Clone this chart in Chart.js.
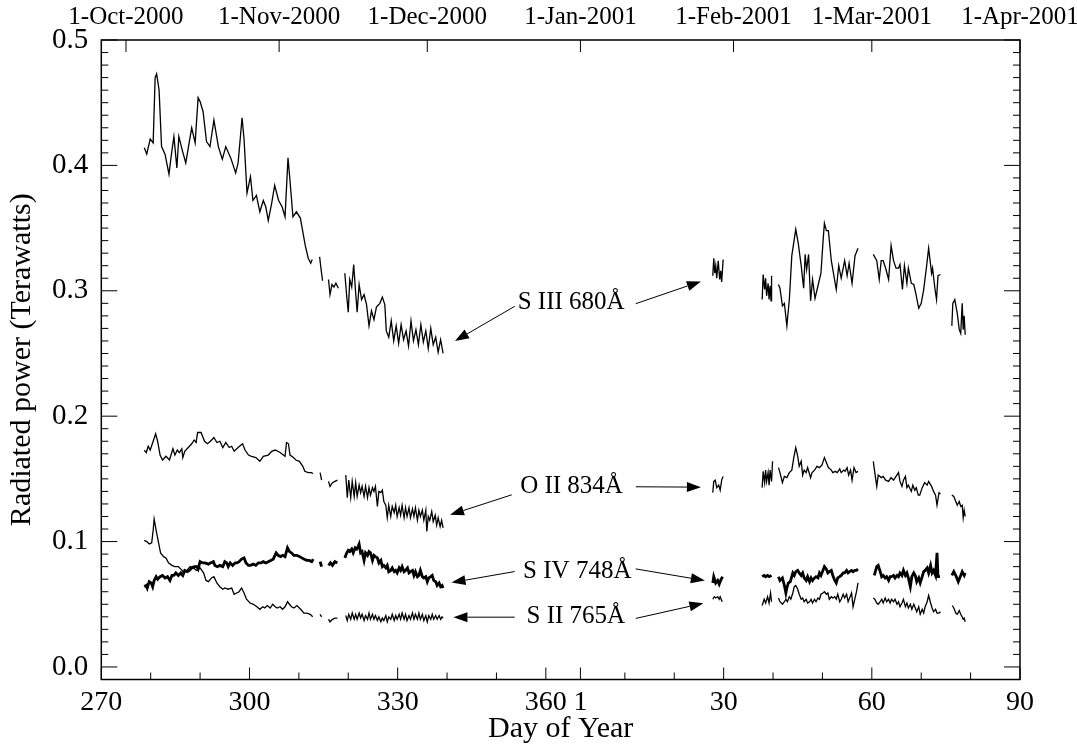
<!DOCTYPE html>
<html>
<head>
<meta charset="utf-8">
<title>Radiated power</title>
<script src="https://cdn.jsdelivr.net/npm/chart.js@4.4.1/dist/chart.umd.min.js"></script>
<style>
  html, body { margin: 0; padding: 0; background: #fff; }
  #wrap { width: 1077px; height: 744px; }
</style>
</head>
<body>
<div id="wrap"><canvas id="grafico" width="1077" height="744"></canvas></div>
<script>
// day numbers run on past 366 into 2001 (day 1 of 2001 = 367), null = gap in the record
const s3Days = [
  278.7, 279.2, 279.9, 280.5, 280.9, 281.2, 281.7, 282.2, 282.9, 283.3, 283.7, 284.2, 284.7, 285.3, 285.7, 286.4, 287.1, 287.7, 288.3, 289.0,
  289.6, 290.0, 290.6, 291.3, 292.0, 292.8, 293.7, 294.5, 295.2, 296.2, 296.7, 297.2, 297.7, 298.5, 298.9, 299.5, 300.2, 300.7, 301.4, 302.1,
  302.8, 303.3, 303.8, 304.5, 305.1, 305.9, 306.6, 307.2, 307.8, 308.2, 308.8, 309.5, 310.3, 311.3, 311.9, 312.4, 312.7, null,
  314.2, 314.5, 314.8, null,
  316.0, 316.3, 316.7, 317.1, 317.5, 318.0, null,
  319.3, 319.7, 320.0, 320.3, 320.7, 321.1, 321.5, 321.8, 322.2, 322.7, 323.2, 323.7, 324.2, 324.7, 325.2, 325.7, 326.4, 326.9, 327.4, 327.7,
  328.2, 328.7, 329.2, 329.7, 330.2, 330.7, 331.2, 331.7, 332.2, 332.7, 333.2, 333.7, 334.2, 334.7, 335.2, 335.7, 336.2, 336.7, 337.2, 337.7,
  338.2, 338.7, 339.2, null,
  393.8, 394.0, 394.2, 394.4, 394.6, 394.9, 395.2, 395.4, 395.6, 395.9, null,
  403.8, 404.0, 404.3, 404.5, 404.7, 405.0, 405.2, 405.4, 405.6, 405.7, null,
  407.1, 407.4, 407.9, 408.3, 408.8, 409.3, 409.8, 410.6, 411.1, 411.7, 412.2, 412.5, 412.8, 413.2, 413.6, 414.0, 414.5, 415.1, 415.7, 416.1,
  416.4, 416.8, 417.2, 417.8, 418.1, 418.8, 419.3, 419.8, 420.5, 421.0, 421.4, 422.0, 422.6, 423.2, null,
  426.3, 427.0, 427.5, 427.9, 428.3, 428.8, 429.4, 429.9, 430.4, 430.9, 431.4, 431.7, 432.2, 432.6, 433.1, 433.4, 434.0, 434.5, 434.9, 435.5,
  436.0, 436.5, 437.1, 437.5, 438.1, 438.3, 438.8, 439.1, 439.4, 439.9, null,
  442.2, 442.4, 442.8, 443.3, 443.7, 444.0, 444.3, 444.5, 444.7, 444.9
];
const s3Vals = [
  .414, .409, .421, .418, .470, .473, .460, .415, .409, .401, .393, .409, .423, .398, .423, .412, .402, .416, .430, .418,
  .454, .451, .443, .419, .415, .436, .415, .405, .415, .406, .400, .394, .402, .438, .421, .378, .391, .372, .376, .363,
  .372, .367, .356, .370, .384, .372, .367, .359, .406, .388, .359, .363, .358, .336, .326, .322, .325, null,
  .327, .317, .308, null,
  .309, .297, .305, .303, .306, .302, null,
  .314, .295, .283, .309, .303, .321, .298, .283, .305, .293, .297, .289, .272, .284, .277, .287, .290, .295, .289, .268,
  .263, .276, .260, .272, .258, .273, .261, .268, .256, .276, .260, .269, .257, .273, .259, .268, .254, .270, .257, .263,
  .251, .261, .250, null,
  .312, .326, .314, .320, .310, .324, .309, .316, .307, .325, null,
  .293, .313, .301, .310, .296, .306, .293, .304, .292, .312, null,
  .305, .302, .288, .290, .272, .293, .328, .349, .338, .320, .302, .329, .317, .329, .292, .309, .294, .304, .314, .338,
  .354, .348, .348, .324, .317, .301, .320, .310, .324, .312, .322, .306, .328, .334, null,
  .329, .324, .309, .324, .324, .318, .309, .336, .324, .318, .318, .321, .301, .320, .306, .318, .306, .305, .298, .286,
  .290, .301, .320, .334, .314, .318, .301, .293, .312, .313, null,
  .272, .290, .293, .282, .269, .266, .290, .269, .280, .265
];

const o2Days = [
  278.7, 279.1, 279.5, 279.9, 280.5, 281.0, 281.4, 281.9, 282.4, 283.1, 283.8, 284.5, 284.9, 285.4, 285.8, 286.3, 286.5, 286.9, 287.6, 288.3,
  288.8, 289.2, 289.5, 290.2, 290.9, 291.5, 292.1, 292.8, 293.4, 294.0, 294.6, 295.2, 295.9, 296.4, 296.9, 297.7, 298.6, 299.1, 299.8, 300.4,
  301.3, 302.1, 302.8, 303.8, 304.5, 305.2, 306.2, 307.2, 307.5, 307.9, 308.2, 308.9, 309.4, 310.1, 310.8, 311.2, 311.9, 312.6, 312.8, null,
  314.3, 314.6, null,
  316.0, 316.3, 316.8, 317.3, 317.8, null,
  319.5, 319.8, 320.1, 320.5, 320.8, 321.2, 321.5, 321.8, 322.2, 322.5, 322.8, 323.2, 323.5, 323.9, 324.2, 324.5, 324.9, 325.2, 325.5, 325.9,
  326.2, 326.6, 326.9, 327.2, 327.6, 327.9, 328.2, 328.6, 328.9, 329.3, 329.6, 329.9, 330.3, 330.6, 330.9, 331.3, 331.6, 331.9, 332.3, 332.6,
  333.0, 333.3, 333.6, 334.0, 334.3, 334.6, 335.0, 335.3, 335.7, 335.9, 336.2, 336.5, 336.9, 337.2, 337.6, 337.9, 338.2, 338.6, 338.9, 339.2, null,
  393.8, 394.0, 394.3, 394.6, 395.0, 395.3, 395.6, 395.9, null,
  403.8, 404.0, 404.3, 404.5, 404.7, 405.0, 405.2, 405.4, 405.7, 405.9, null,
  407.1, 407.4, 407.9, 408.3, 408.8, 409.3, 409.8, 410.2, 410.6, 411.0, 411.3, 411.7, 412.0, 412.3, 412.7, 413.0, 413.6, 413.9, 414.4, 414.9,
  415.4, 415.9, 416.4, 416.8, 417.2, 417.8, 418.1, 418.6, 419.0, 419.5, 419.8, 420.3, 420.6, 421.0, 421.3, 421.7, 422.0, 422.4, 422.8, 423.2, null,
  426.3, 426.6, 427.0, 427.3, 427.9, 428.3, 428.8, 429.4, 429.9, 430.4, 430.9, 431.4, 431.7, 432.1, 432.4, 432.8, 433.1, 433.4, 434.0, 434.3,
  434.7, 435.0, 435.4, 435.7, 436.2, 436.7, 437.2, 437.5, 438.1, 438.5, 438.9, 439.2, 439.6, 439.9, null,
  442.2, 442.6, 443.0, 443.3, 443.7, 444.0, 444.3, 444.5, 444.7, 444.9
];
const o2Vals = [
  .173, .171, .176, .173, .180, .186, .180, .169, .165, .168, .165, .174, .169, .173, .171, .174, .167, .172, .175, .178,
  .181, .179, .187, .187, .180, .178, .180, .183, .179, .180, .175, .179, .175, .176, .172, .175, .178, .173, .169, .168,
  .167, .164, .168, .169, .172, .173, .171, .168, .179, .178, .169, .167, .165, .164, .160, .156, .155, .155, .154, null,
  .155, .149, null,
  .148, .144, .147, .148, .149, null,
  .153, .135, .149, .135, .148, .136, .147, .136, .145, .139, .144, .136, .144, .135, .143, .137, .143, .140, .144, .128,
  .140, .139, .141, .132, .129, .119, .129, .120, .128, .123, .129, .120, .127, .121, .129, .119, .127, .120, .127, .119,
  .126, .120, .127, .117, .125, .120, .125, .117, .125, .108, .120, .117, .124, .116, .121, .113, .119, .112, .117, .111, null,
  .139, .148, .149, .143, .145, .141, .149, .152, null,
  .143, .156, .147, .157, .148, .155, .145, .157, .148, .164, null,
  .159, .155, .147, .152, .151, .155, .157, .167, .175, .168, .160, .164, .153, .157, .155, .159, .151, .155, .157, .160,
  .159, .161, .167, .163, .159, .157, .155, .156, .155, .158, .155, .157, .156, .159, .153, .157, .149, .159, .155, .156, null,
  .164, .155, .144, .153, .151, .152, .149, .148, .151, .149, .152, .155, .148, .144, .149, .152, .143, .145, .140, .145,
  .141, .143, .137, .137, .143, .147, .145, .148, .144, .140, .137, .129, .139, .138, null,
  .137, .136, .132, .129, .132, .128, .129, .119, .125, .120
];

const s4Days = [
  278.7, 279.1, 279.3, 279.7, 280.1, 280.4, 280.7, 281.1, 281.4, 281.9, 282.4, 282.9, 283.4, 283.9, 284.3, 284.7, 285.1, 285.6, 286.1, 286.5,
  286.9, 287.4, 287.8, 288.3, 288.8, 289.3, 289.6, 290.0, 290.5, 291.0, 291.7, 292.1, 292.7, 293.0, 293.5, 294.0, 294.6, 295.0, 295.4, 295.7,
  296.1, 296.6, 297.1, 297.5, 297.9, 298.4, 298.9, 299.3, 299.8, 300.2, 300.8, 301.3, 301.8, 302.3, 302.8, 303.3, 303.8, 304.3, 304.8, 305.4,
  305.8, 306.3, 306.7, 307.2, 307.7, 308.1, 308.5, 309.0, 309.6, 310.1, 310.6, 311.0, 311.6, 312.1, 312.6, 312.9, null,
  314.3, 314.6, null,
  316.0, 316.4, 316.8, 317.3, 317.8, null,
  319.3, 319.7, 320.0, 320.3, 320.7, 321.0, 321.4, 321.7, 322.0, 322.2, 322.5, 322.8, 323.2, 323.5, 323.9, 324.2, 324.5, 324.9, 325.2, 325.5,
  325.9, 326.2, 326.6, 326.9, 327.2, 327.6, 327.9, 328.2, 328.6, 328.9, 329.3, 329.6, 329.9, 330.3, 330.6, 330.9, 331.3, 331.6, 332.0, 332.3,
  332.6, 333.0, 333.3, 333.6, 334.0, 334.3, 334.6, 335.0, 335.3, 335.7, 336.0, 336.3, 336.7, 337.0, 337.3, 337.7, 338.0, 338.4, 338.7, 339.0, 339.2, null,
  393.8, 394.0, 394.4, 394.8, 395.1, 395.5, 395.8, null,
  403.8, 404.2, 404.5, 404.9, 405.2, 405.7, null,
  407.1, 407.4, 407.9, 408.3, 408.6, 408.8, 409.1, 409.5, 410.0, 410.3, 410.6, 411.0, 411.3, 411.7, 412.0, 412.3, 412.7, 413.0, 413.4, 413.7,
  414.0, 414.4, 414.7, 415.1, 415.4, 415.7, 416.1, 416.4, 416.8, 417.1, 417.4, 417.8, 418.1, 418.5, 418.8, 419.1, 419.5, 419.8, 420.2, 420.5,
  420.9, 421.2, 421.5, 421.9, 422.2, 422.6, 422.9, 423.2, null,
  426.5, 427.0, 427.3, 427.7, 428.0, 428.3, 428.7, 429.0, 429.4, 429.7, 430.0, 430.4, 430.7, 431.1, 431.4, 431.7, 432.1, 432.4, 432.8, 433.1,
  433.4, 433.8, 434.1, 434.5, 434.8, 435.1, 435.5, 435.8, 436.2, 436.5, 436.8, 437.2, 437.5, 437.9, 438.2, 438.5, 438.9, 439.2, 439.4, 439.8, null,
  442.2, 442.6, 443.1, 443.5, 444.0, 444.3, 444.7, 444.9
];
const s4Vals = [
  .064, .065, .063, .068, .067, .064, .069, .072, .070, .072, .073, .071, .072, .069, .073, .073, .075, .073, .075, .073,
  .077, .076, .077, .079, .080, .080, .078, .084, .083, .083, .082, .083, .084, .081, .080, .081, .080, .084, .083, .080,
  .083, .081, .083, .083, .084, .086, .087, .083, .081, .081, .082, .081, .083, .083, .084, .083, .084, .085, .086, .091,
  .089, .088, .089, .088, .095, .092, .091, .089, .089, .088, .087, .086, .085, .085, .084, .086, null,
  .084, .080, null,
  .081, .083, .081, .084, .083, null,
  .087, .091, .093, .092, .094, .091, .095, .094, .096, .098, .091, .092, .085, .091, .089, .092, .091, .085, .089, .088,
  .087, .083, .085, .080, .081, .079, .081, .076, .077, .079, .076, .077, .075, .079, .077, .080, .076, .077, .079, .075,
  .076, .077, .073, .076, .072, .073, .077, .072, .071, .072, .068, .071, .072, .073, .069, .068, .065, .067, .064, .065, .063, null,
  .067, .072, .067, .069, .066, .070, .072, null,
  .072, .073, .072, .073, .072, .073, null,
  .072, .069, .071, .065, .059, .063, .067, .068, .075, .073, .076, .077, .075, .073, .075, .071, .069, .072, .068, .071,
  .069, .071, .072, .071, .075, .073, .077, .080, .078, .075, .076, .077, .073, .069, .067, .071, .072, .073, .075, .075,
  .077, .075, .076, .077, .076, .077, .077, .078, null,
  .073, .080, .081, .076, .072, .073, .071, .072, .069, .072, .072, .073, .071, .073, .072, .075, .073, .077, .073, .075,
  .071, .064, .072, .075, .073, .068, .071, .067, .072, .076, .077, .079, .075, .081, .075, .077, .073, .091, .072, .072, null,
  .073, .076, .072, .068, .073, .076, .073, .075
];

const s2Days = [
  278.7, 279.2, 279.7, 280.2, 280.5, 280.7, 281.1, 281.6, 282.0, 282.6, 283.1, 283.6, 284.3, 284.9, 285.6, 286.1, 286.6, 287.3, 288.0, 288.6,
  289.3, 290.0, 290.7, 291.2, 291.7, 292.3, 292.8, 293.4, 294.0, 294.6, 295.0, 295.7, 296.4, 296.9, 297.4, 297.9, 298.4, 298.9, 299.4, 300.1,
  300.8, 301.5, 302.1, 302.7, 303.1, 303.6, 304.2, 304.7, 305.2, 305.6, 306.2, 306.7, 307.2, 307.7, 308.1, 308.5, 309.0, 309.6, 310.1, 310.6,
  311.0, 311.6, 312.3, 312.8, null,
  314.3, 314.6, null,
  316.0, 316.3, 316.8, 317.3, 317.8, null,
  319.5, 319.8, 320.1, 320.5, 320.8, 321.2, 321.5, 321.8, 322.2, 322.5, 322.8, 323.2, 323.5, 323.9, 324.2, 324.5, 324.9, 325.2, 325.5, 325.9,
  326.2, 326.6, 326.9, 327.2, 327.6, 327.9, 328.2, 328.6, 328.9, 329.3, 329.6, 329.9, 330.3, 330.6, 330.9, 331.3, 331.6, 331.9, 332.3, 332.6,
  333.0, 333.3, 333.6, 334.0, 334.3, 334.6, 335.0, 335.3, 335.7, 336.0, 336.3, 336.7, 337.0, 337.3, 337.7, 338.0, 338.4, 338.7, 339.0, 339.2, null,
  393.8, 394.1, 394.4, 394.8, 395.1, 395.3, 395.7, null,
  403.8, 404.2, 404.5, 404.9, 405.2, 405.5, 405.7, null,
  407.1, 407.4, 407.9, 408.3, 408.6, 408.9, 409.3, 409.6, 410.0, 410.3, 410.6, 411.0, 411.3, 411.7, 412.0, 412.3, 412.7, 413.0, 413.4, 413.7,
  414.0, 414.4, 414.7, 415.1, 415.4, 415.7, 416.1, 416.4, 416.8, 417.1, 417.4, 417.8, 418.1, 418.5, 418.8, 419.1, 419.5, 419.8, 420.2, 420.5,
  420.9, 421.2, 421.5, 421.9, 422.2, 422.6, 422.9, 423.2, null,
  426.3, 426.6, 427.0, 427.3, 427.7, 428.0, 428.3, 428.7, 429.0, 429.4, 429.7, 430.0, 430.4, 430.7, 431.1, 431.4, 431.7, 432.1, 432.4, 432.8,
  433.1, 433.4, 433.8, 434.1, 434.5, 434.8, 435.1, 435.5, 435.8, 436.2, 436.5, 436.8, 437.2, 437.5, 437.9, 438.2, 438.5, 438.9, 439.2, 439.6, 439.9, null,
  442.3, 442.6, 443.0, 443.3, 443.7, 444.0, 444.3, 444.5, 444.7, 444.9
];
const s2Vals = [
  .101, .100, .098, .099, .109, .118, .109, .099, .091, .088, .087, .083, .081, .080, .080, .078, .076, .077, .080, .079,
  .077, .079, .075, .069, .068, .071, .072, .067, .064, .062, .063, .062, .063, .058, .059, .060, .063, .059, .054, .051,
  .050, .048, .046, .048, .047, .049, .047, .050, .048, .047, .048, .046, .048, .052, .050, .048, .047, .049, .047, .045,
  .043, .043, .042, .040, null,
  .042, .040, null,
  .038, .036, .038, .039, .039, null,
  .041, .037, .042, .038, .043, .038, .042, .038, .043, .039, .042, .037, .041, .038, .043, .038, .042, .038, .041, .037,
  .040, .036, .039, .037, .041, .036, .040, .038, .042, .037, .041, .038, .042, .038, .043, .038, .042, .037, .041, .038,
  .043, .038, .042, .038, .043, .038, .042, .037, .041, .036, .041, .038, .042, .038, .041, .038, .041, .038, .040, .039, null,
  .054, .056, .055, .056, .054, .056, .052, null,
  .049, .054, .051, .056, .051, .059, .052, null,
  .055, .052, .050, .052, .054, .052, .056, .054, .059, .064, .065, .062, .058, .054, .055, .052, .054, .051, .052, .054,
  .051, .054, .052, .055, .054, .058, .059, .060, .058, .059, .054, .056, .055, .056, .054, .058, .052, .054, .058, .055,
  .058, .052, .055, .059, .048, .055, .060, .067, null,
  .055, .054, .051, .050, .052, .054, .051, .055, .052, .054, .051, .054, .052, .054, .050, .052, .048, .051, .054, .048,
  .051, .047, .050, .046, .050, .047, .044, .048, .042, .046, .043, .048, .052, .057, .051, .047, .044, .046, .043, .043, .044, null,
  .049, .047, .043, .042, .045, .042, .040, .038, .039, .036
];

// axis ticks
const bottomTicks = [270, 280, 290, 300, 310, 320, 330, 340, 350, 360, 367, 376, 386, 396, 406, 416, 426, 436, 446, 456];
const bottomLabels = ['270', '', '', '300', '', '', '330', '', '', '360', '1', '', '', '30', '', '', '60', '', '', '90'];
const topTicks = [275, 306, 336, 367, 398, 426, 456];
const topLabels = ['1-Oct-2000', '1-Nov-2000', '1-Dec-2000', '1-Jan-2001', '1-Feb-2001', '1-Mar-2001', '1-Apr-2001'];
const yTicks = [0, 0.1, 0.2, 0.3, 0.4, 0.5];

// line labels and their arrows (day, power)
const labelTexts = ['S III 680\u00C5', 'O II 834\u00C5', 'S IV 748\u00C5', 'S II 765\u00C5'];
const labelAt = [[354.3, 0.2905], [354.8, 0.1439], [355.4, 0.0761], [356.1, 0.0401]];
const arrowsLeft = [[353.7, 0.2876, 341.6, 0.2600], [353.1, 0.1373, 340.6, 0.1213], [353.7, 0.0761, 340.9, 0.0673], [353.7, 0.0397, 341.3, 0.0397]];
const arrowsRight = [[378.2, 0.2897, 391.4, 0.3075], [378.2, 0.1437, 391.4, 0.1434], [378.2, 0.0782, 392.2, 0.0689], [378.2, 0.0387, 391.9, 0.0508]];

function toPoints(days, vals) {
  return days.map((d, i) => ({ x: d === null ? days[i - 1] : d, y: vals[i] }));
}

function serie(label, days, vals, width) {
  return {
    label: label,
    data: toPoints(days, vals),
    borderColor: '#000',
    borderWidth: width,
    pointRadius: 0,
    tension: 0,
    spanGaps: false
  };
}

const fonte = "'Liberation Serif', 'Times New Roman', serif";

// keep overhanging tick labels from shrinking the plot box
function semPadding(scale) {
  scale.paddingLeft = 0;
  scale.paddingRight = 0;
  scale.paddingTop = 0;
  scale.paddingBottom = 0;
}

// frame, inward tick marks and the line labels with arrows
const molduraPlugin = {
  id: 'moldura',
  afterDraw(chart) {
    const ctx = chart.ctx;
    const a = chart.chartArea;
    const xs = chart.scales.x;
    const ys = chart.scales.y;
    ctx.save();
    ctx.strokeStyle = '#000';
    ctx.lineWidth = 1.5;
    ctx.strokeRect(a.left, a.top, a.right - a.left, a.bottom - a.top);

    ctx.lineWidth = 1;
    ctx.beginPath();
    bottomTicks.forEach((t, i) => {
      const px = xs.getPixelForValue(t);
      const len = bottomLabels[i] ? 12 : 7;
      ctx.moveTo(px, a.bottom);
      ctx.lineTo(px, a.bottom - len);
    });
    topTicks.forEach(t => {
      const px = xs.getPixelForValue(t);
      ctx.moveTo(px, a.top);
      ctx.lineTo(px, a.top + 12);
    });
    for (let k = 0; k <= 50; k++) {
      const py = ys.getPixelForValue(k / 100);
      const len = k % 10 === 0 ? 16 : 7;
      ctx.moveTo(a.left, py);
      ctx.lineTo(a.left + len, py);
      ctx.moveTo(a.right, py);
      ctx.lineTo(a.right - len, py);
    }
    ctx.stroke();

    ctx.fillStyle = '#000';
    ctx.font = '25px ' + fonte;
    ctx.textBaseline = 'middle';
    ctx.textAlign = 'left';
    labelTexts.forEach((txt, i) => {
      ctx.fillText(txt, xs.getPixelForValue(labelAt[i][0]), ys.getPixelForValue(labelAt[i][1]));
    });

    const seta = (s) => {
      const x0 = xs.getPixelForValue(s[0]), y0 = ys.getPixelForValue(s[1]);
      const x1 = xs.getPixelForValue(s[2]), y1 = ys.getPixelForValue(s[3]);
      const ang = Math.atan2(y1 - y0, x1 - x0);
      const head = 14, half = 5;
      const bx = x1 - head * Math.cos(ang), by = y1 - head * Math.sin(ang);
      ctx.beginPath();
      ctx.moveTo(x0, y0);
      ctx.lineTo(bx, by);
      ctx.lineWidth = 1;
      ctx.stroke();
      ctx.beginPath();
      ctx.moveTo(x1, y1);
      ctx.lineTo(bx + half * Math.sin(ang), by - half * Math.cos(ang));
      ctx.lineTo(bx - half * Math.sin(ang), by + half * Math.cos(ang));
      ctx.closePath();
      ctx.fill();
    };
    arrowsLeft.forEach(seta);
    arrowsRight.forEach(seta);
    ctx.restore();
  }
};

new Chart(document.getElementById('grafico'), {
  type: 'line',
  data: {
    datasets: [
      serie('S III 680\u00C5', s3Days, s3Vals, 1.3),
      serie('O II 834\u00C5', o2Days, o2Vals, 1.3),
      serie('S IV 748\u00C5', s4Days, s4Vals, 2.8),
      serie('S II 765\u00C5', s2Days, s2Vals, 1.3)
    ]
  },
  options: {
    responsive: false,
    animation: false,
    layout: { padding: { left: 0, right: 57, top: 0, bottom: 0 } },
    plugins: {
      legend: { display: false },
      tooltip: { enabled: false }
    },
    scales: {
      x: {
        type: 'linear',
        position: 'bottom',
        min: 270,
        max: 456,
        grid: { display: false, drawTicks: false },
        border: { display: false },
        afterBuildTicks: (scale) => { scale.ticks = bottomTicks.map(v => ({ value: v })); },
        afterFit: (scale) => { scale.height = 64.5; semPadding(scale); },
        ticks: {
          autoSkip: false,
          maxRotation: 0,
          minRotation: 0,
          padding: 6,
          color: '#000',
          font: { family: fonte, size: 28 },
          callback: (value, index) => bottomLabels[index]
        },
        title: {
          display: true,
          text: 'Day of Year',
          color: '#000',
          font: { family: fonte, size: 30 },
          padding: { top: 0, bottom: -3 }
        }
      },
      xTop: {
        type: 'linear',
        position: 'top',
        min: 270,
        max: 456,
        grid: { display: false, drawTicks: false },
        border: { display: false },
        afterBuildTicks: (scale) => { scale.ticks = topTicks.map(v => ({ value: v })); },
        afterFit: (scale) => { scale.height = 40; semPadding(scale); },
        ticks: {
          autoSkip: false,
          maxRotation: 0,
          minRotation: 0,
          padding: 8,
          color: '#000',
          font: { family: fonte, size: 25 },
          callback: (value, index) => topLabels[index]
        }
      },
      y: {
        type: 'linear',
        min: -0.01,
        max: 0.5,
        grid: { display: false, drawTicks: false },
        border: { display: false },
        afterBuildTicks: (scale) => { scale.ticks = yTicks.map(v => ({ value: v })); },
        afterFit: (scale) => { scale.width = 101.3; semPadding(scale); },
        ticks: {
          padding: 13,
          color: '#000',
          font: { family: fonte, size: 29 },
          callback: (value) => value.toFixed(1)
        },
        title: {
          display: true,
          text: 'Radiated power (Terawatts)',
          color: '#000',
          font: { family: fonte, size: 30 },
          padding: { top: 4, bottom: 0 }
        }
      }
    }
  },
  plugins: [molduraPlugin]
});
</script>
</body>
</html>
